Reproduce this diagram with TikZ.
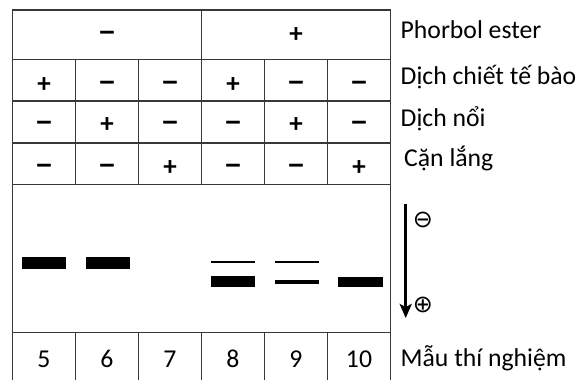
\documentclass[tikz,border=0pt]{standalone}
\usepackage{fontspec}
\setmainfont{Carlito}
\newfontfamily\symfont{DejaVu Sans}
\usetikzlibrary{arrows.meta}

\newcommand{\minussign}{\scalebox{1.3}[1.15]{−}}

\tikzset{
    tableline/.style={draw=black!78, line width=1.4pt},
    pmsign/.style={font=\fontsize{27}{32}\selectfont\bfseries, anchor=base, inner sep=0pt},
    rowlabel/.style={font=\fontsize{25.7}{30}\selectfont, anchor=base west, inner sep=0pt},
    lanenum/.style={font=\fontsize{25.7}{30}\selectfont, anchor=base, inner sep=0pt},
    band/.style={fill=black},
    pole/.style={font=\fontsize{24}{28}\selectfont\symfont, inner sep=0pt}
}

\begin{document}
\begin{tikzpicture}[x=1pt, y=-1pt]
    \useasboundingbox (0,0) rectangle (587,380);

    % table frame
    \draw[tableline] (12.5,380) -- (12.5,10) -- (390.5,10) -- (390.5,380);
    \draw[tableline] (12.5,59.7) -- (390.5,59.7);
    \draw[tableline] (12.5,101) -- (390.5,101);
    \draw[tableline] (12.5,143) -- (390.5,143);
    \draw[tableline] (12.5,184.5) -- (390.5,184.5);
    \draw[tableline] (12.5,332.3) -- (390.5,332.3);
    \draw[tableline] (201.5,10) -- (201.5,184.5);
    \draw[tableline] (75.5,59.7) -- (75.5,184.5);
    \draw[tableline] (138.5,59.7) -- (138.5,184.5);
    \draw[tableline] (264.5,59.7) -- (264.5,184.5);
    \draw[tableline] (327.5,59.7) -- (327.5,184.5);
    \draw[tableline] (75.5,332.3) -- (75.5,380);
    \draw[tableline] (138.5,332.3) -- (138.5,380);
    \draw[tableline] (201.5,332.3) -- (201.5,380);
    \draw[tableline] (264.5,332.3) -- (264.5,380);
    \draw[tableline] (327.5,332.3) -- (327.5,380);

    % phorbol ester row
    \node[pmsign] (pe-a) at (107,42) {\minussign};
    \node[pmsign] (pe-b) at (296,42) {+};

    % dich chiet row
    \node[pmsign] (dc-5) at (44,92) {+};
    \node[pmsign] (dc-6) at (107,92) {\minussign};
    \node[pmsign] (dc-7) at (170,92) {\minussign};
    \node[pmsign] (dc-8) at (233,92) {+};
    \node[pmsign] (dc-9) at (296,92) {\minussign};
    \node[pmsign] (dc-10) at (359,92) {\minussign};

    % dich noi row
    \node[pmsign] (dn-5) at (44,132.5) {\minussign};
    \node[pmsign] (dn-6) at (107,132.5) {+};
    \node[pmsign] (dn-7) at (170,132.5) {\minussign};
    \node[pmsign] (dn-8) at (233,132.5) {\minussign};
    \node[pmsign] (dn-9) at (296,132.5) {+};
    \node[pmsign] (dn-10) at (359,132.5) {\minussign};

    % can lang row
    \node[pmsign] (cl-5) at (44,175) {\minussign};
    \node[pmsign] (cl-6) at (107,175) {\minussign};
    \node[pmsign] (cl-7) at (170,175) {+};
    \node[pmsign] (cl-8) at (233,175) {\minussign};
    \node[pmsign] (cl-9) at (296,175) {\minussign};
    \node[pmsign] (cl-10) at (359,175) {+};

    % gel bands
    \fill[band] (21.7,257.3) rectangle (66.3,268.7);
    \fill[band] (85.7,257.3) rectangle (130.3,268.7);
    \fill[band] (211,261) rectangle (255.3,262.8);
    \fill[band] (211,276.3) rectangle (255.3,286.7);
    \fill[band] (275.3,261) rectangle (319.3,262.8);
    \fill[band] (275.3,280) rectangle (319.3,284);
    \fill[band] (338.3,277.3) rectangle (382.7,286.7);

    % lane numbers
    \node[lanenum] (n5) at (44,367) {5};
    \node[lanenum] (n6) at (107,367) {6};
    \node[lanenum] (n7) at (170,367) {7};
    \node[lanenum] (n8) at (233,367) {8};
    \node[lanenum] (n9) at (296,367) {9};
    \node[lanenum] (n10) at (359,367) {10};

    % row labels
    \node[rowlabel] (phorbol) at (400.5,38.3) {Phorbol ester};
    \node[rowlabel] (dichchiet) at (400.5,84) {Dịch chiết tế bào};
    \node[rowlabel] (dichnoi) at (400.5,126.7) {Dịch nổi};
    \node[rowlabel] (canlang) at (404,166.7) {Cặn lắng};
    \node[rowlabel] (mau) at (400.5,366.7) {Mẫu thí nghiệm};

    % electrophoresis direction
    \coordinate (run-top) at (405.7,204);
    \coordinate (run-end) at (405.7,318);
    \draw[line width=2.6pt, -{Stealth[length=14pt, width=12pt, inset=3pt]}] (run-top) -- (run-end);
    \node[pole] (cathode) at (423,220) {⊖};
    \node[pole] (anode) at (423,305) {⊕};
\end{tikzpicture}
\end{document}
